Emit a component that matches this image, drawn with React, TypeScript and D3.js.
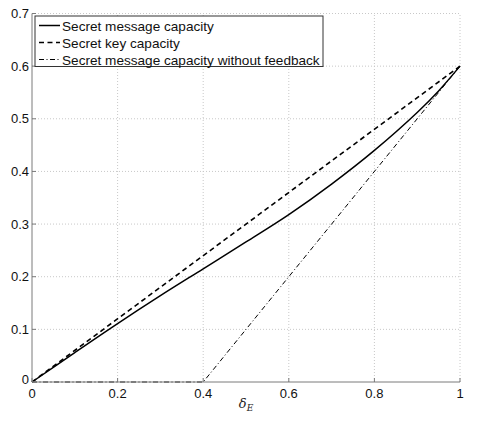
import React from "react";
import * as d3 from "d3";

// values
const deltaE = [0, 0.1, 0.2, 0.3, 0.4, 0.5, 0.6, 0.7, 0.8, 0.9, 0.95, 1];
const messageCapacity = [0, 0.056, 0.111, 0.164, 0.215, 0.266, 0.318, 0.376, 0.44, 0.512, 0.553, 0.6];
const keyX = [0, 1];
const keyCapacity = [0, 0.6];
const noFeedbackX = [0, 0.4, 1];
const noFeedbackCapacity = [0, 0, 0.6];

const xTicks = [0, 0.2, 0.4, 0.6, 0.8, 1];
const yTicks = [0, 0.1, 0.2, 0.3, 0.4, 0.5, 0.6, 0.7];
const legendLabels = [
  "Secret message capacity",
  "Secret key capacity",
  "Secret message capacity without feedback",
];

const W = 480;
const H = 421;
const margin = { top: 13.5, right: 20, bottom: 39, left: 32 };

export default function App() {
  const x = d3.scaleLinear().domain([0, 1]).range([margin.left, W - margin.right]);
  const y = d3.scaleLinear().domain([0, 0.7]).range([H - margin.bottom, margin.top]);

  const line = d3
    .line<[number, number]>()
    .x((d) => x(d[0]))
    .y((d) => y(d[1]));
  const smooth = d3
    .line<[number, number]>()
    .x((d) => x(d[0]))
    .y((d) => y(d[1]))
    .curve(d3.curveCatmullRom);

  const series = [
    { d: smooth(deltaE.map((v, i) => [v, messageCapacity[i]])), dash: "none", w: 1.5 },
    { d: line(keyX.map((v, i) => [v, keyCapacity[i]])), dash: "5,3.5", w: 1.6 },
    { d: line(noFeedbackX.map((v, i) => [v, noFeedbackCapacity[i]])), dash: "5,2.5,1,2.5", w: 1 },
  ];

  const font = "'Liberation Sans', Arial, sans-serif";
  const x0 = x(0);
  const x1 = x(1);
  const y0 = y(0);
  const y1 = y(0.7);

  return (
    <svg
      width={W}
      height={H}
      style={{ position: "absolute", left: 0, top: 0, background: "#fff" }}
      fontFamily={font}
    >
      {/* grid */}
      <g stroke="#c8c8c8" strokeWidth={1} strokeDasharray="1,2">
        {xTicks.slice(1).map((t) => (
          <line key={"gx" + t} x1={x(t)} x2={x(t)} y1={y0} y2={y1} />
        ))}
        {yTicks.slice(1).map((t) => (
          <line key={"gy" + t} x1={x0} x2={x1} y1={y(t)} y2={y(t)} />
        ))}
      </g>

      {/* curves */}
      {series.map((s, i) => (
        <path key={i} d={s.d || ""} fill="none" stroke="#000" strokeWidth={s.w} strokeDasharray={s.dash} />
      ))}

      {/* axes */}
      <g stroke="#7a7a7a" strokeWidth={1}>
        <line x1={x0} x2={x0} y1={y0} y2={y1} />
        <line x1={x0} x2={x1} y1={y0} y2={y0} />
        {xTicks.map((t) => (
          <line key={"tx" + t} x1={x(t)} x2={x(t)} y1={y0} y2={y0 - 4} />
        ))}
        {yTicks.map((t) => (
          <line key={"ty" + t} x1={x0} x2={x0 + 4} y1={y(t)} y2={y(t)} />
        ))}
      </g>
      <g fontSize={13} fill="#111">
        {xTicks.map((t) => (
          <text key={"lx" + t} x={x(t)} y={y0 + 16} textAnchor="middle">
            {String(t)}
          </text>
        ))}
        {yTicks.map((t) => (
          <text key={"ly" + t} x={x0 - 3} y={y(t) + 4.5 - (t === 0 ? 3 : 0)} textAnchor="end">
            {String(t)}
          </text>
        ))}
      </g>

      {/* x label */}
      <text x={x(0.5)} y={H - 13} textAnchor="middle" fontFamily="'DejaVu Serif', serif" fontStyle="italic" fontSize={13} fill="#222">
        δ<tspan fontSize={9} dy={3}>E</tspan>
      </text>

      {/* legend */}
      <g>
        <rect x={35} y={16} width={288} height={50.5} fill="#fff" stroke="#333" strokeWidth={1} />
        {legendLabels.map((lab, i) => {
          const ly = 25.5 + i * 17;
          return (
            <g key={lab}>
              <line x1={39} x2={60} y1={ly} y2={ly} stroke="#000" strokeWidth={series[i].w} strokeDasharray={series[i].dash} />
              <text x={62} y={ly + 5} fontSize={13.6} fill="#111">
                {lab}
              </text>
            </g>
          );
        })}
      </g>
    </svg>
  );
}
